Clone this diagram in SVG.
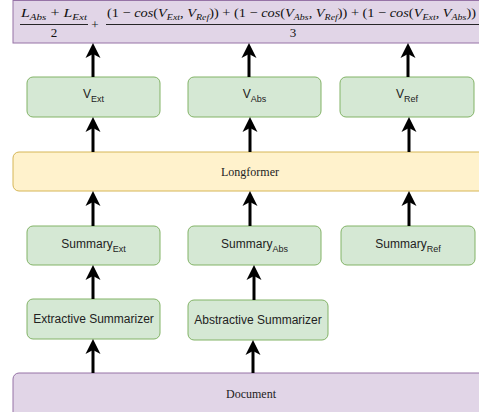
<svg xmlns="http://www.w3.org/2000/svg" width="479" height="412" viewBox="0 0 479 412">
<style>
.g{fill:#d5e8d4;stroke:#82b366;stroke-width:1}
.y{fill:#fff2cc;stroke:#d6b656;stroke-width:1}
.p{fill:#e1d5e7;stroke:#9673a6;stroke-width:1}
.s{font-family:"Liberation Sans",Arial,sans-serif;font-size:12px;fill:#222;text-anchor:middle}
.sub{font-size:9px}
.t{font-family:"Liberation Serif","Times New Roman",serif;font-size:12px;fill:#222;text-anchor:middle}
.m{font-family:"Liberation Serif","Times New Roman",serif;font-size:13px;fill:#111}
.i{font-style:italic}
.ms{font-size:9px;font-style:italic}
.bar{stroke:#111;stroke-width:0.9}
.c{stroke:#000;stroke-width:3;fill:none;marker-end:url(#ah)}
</style>
<defs>
<marker id="ah" markerUnits="userSpaceOnUse" markerWidth="30" markerHeight="30" viewBox="-10 -10 30 20" refX="0" refY="0" orient="auto" overflow="visible">
<path d="M11,0 L-4,-7.5 L0,0 L-4,7.5 Z" fill="#000"/>
</marker>
</defs>

<g id="formula">
<rect class="p" x="13" y="0.5" width="480" height="42.5"/>
<text class="m" x="21" y="17" textLength="66" lengthAdjust="spacingAndGlyphs"><tspan class="i">L</tspan><tspan class="ms" dy="3">Abs</tspan><tspan dy="-3"> + </tspan><tspan class="i">L</tspan><tspan class="ms" dy="3">Ext</tspan></text>
<line class="bar" x1="20" y1="24.5" x2="88" y2="24.5"/>
<text class="m" x="54" y="37" text-anchor="middle">2</text>
<text class="m" x="95" y="29" text-anchor="middle">+</text>
<text class="m" x="107" y="17" textLength="369" lengthAdjust="spacingAndGlyphs">(1 − <tspan class="i">cos</tspan>(<tspan class="i">V</tspan><tspan class="ms" dy="3">Ext</tspan><tspan dy="-3">, </tspan><tspan class="i">V</tspan><tspan class="ms" dy="3">Ref</tspan><tspan dy="-3">)) + (1 − </tspan><tspan class="i">cos</tspan>(<tspan class="i">V</tspan><tspan class="ms" dy="3">Abs</tspan><tspan dy="-3">, </tspan><tspan class="i">V</tspan><tspan class="ms" dy="3">Ref</tspan><tspan dy="-3">)) + (1 − </tspan><tspan class="i">cos</tspan>(<tspan class="i">V</tspan><tspan class="ms" dy="3">Ext</tspan><tspan dy="-3">, </tspan><tspan class="i">V</tspan><tspan class="ms" dy="3">Abs</tspan><tspan dy="-3">))</tspan></text>
<line class="bar" x1="106" y1="24.5" x2="479" y2="24.5"/>
<text class="m" x="293" y="37" text-anchor="middle">3</text>
</g>

<g id="v-ext"><rect class="g" x="27" y="77" width="133" height="40" rx="6"/><text class="s" x="93.5" y="98">V<tspan class="sub" dy="4">Ext</tspan></text></g>
<g id="v-abs"><rect class="g" x="188" y="77" width="133" height="40" rx="6"/><text class="s" x="254.5" y="98">V<tspan class="sub" dy="4">Abs</tspan></text></g>
<g id="v-ref"><rect class="g" x="340" y="77" width="134" height="40" rx="6"/><text class="s" x="407" y="98">V<tspan class="sub" dy="4">Ref</tspan></text></g>

<g id="longformer"><rect class="y" x="13" y="152" width="474" height="39" rx="6"/><text class="t" x="250" y="176">Longformer</text></g>

<g id="summary-ext"><rect class="g" x="27" y="226" width="133" height="39" rx="6"/><text class="s" x="93.5" y="247.5">Summary<tspan class="sub" dy="4">Ext</tspan></text></g>
<g id="summary-abs"><rect class="g" x="188" y="226" width="133" height="39" rx="6"/><text class="s" x="254.5" y="247.5">Summary<tspan class="sub" dy="4">Abs</tspan></text></g>
<g id="summary-ref"><rect class="g" x="341" y="226" width="134" height="39" rx="6"/><text class="s" x="408" y="247.5">Summary<tspan class="sub" dy="4">Ref</tspan></text></g>

<g id="extractive"><rect class="g" x="27" y="299" width="133" height="40" rx="6"/><text class="s" x="93.5" y="323">Extractive Summarizer</text></g>
<g id="abstractive"><rect class="g" x="188" y="300" width="140" height="40" rx="6"/><text class="s" x="258" y="324">Abstractive Summarizer</text></g>

<g id="document"><rect class="p" x="13" y="373" width="480" height="45" rx="6"/><text class="t" x="251" y="398">Document</text></g>

<g id="connectors">
<line class="c" x1="93" y1="373" x2="93" y2="350"/>
<line class="c" x1="253" y1="373" x2="253" y2="351"/>
<line class="c" x1="93" y1="299" x2="93" y2="276"/>
<line class="c" x1="254" y1="300" x2="254" y2="276"/>
<line class="c" x1="93" y1="226" x2="93" y2="202"/>
<line class="c" x1="250" y1="226" x2="250" y2="202"/>
<line class="c" x1="409" y1="226" x2="409" y2="202"/>
<line class="c" x1="93" y1="152" x2="93" y2="128"/>
<line class="c" x1="250" y1="152" x2="250" y2="128"/>
<line class="c" x1="409" y1="152" x2="409" y2="128"/>
<line class="c" x1="93" y1="77" x2="93" y2="54"/>
<line class="c" x1="249" y1="77" x2="249" y2="54"/>
<line class="c" x1="408" y1="77" x2="408" y2="54"/>
</g>
</svg>
